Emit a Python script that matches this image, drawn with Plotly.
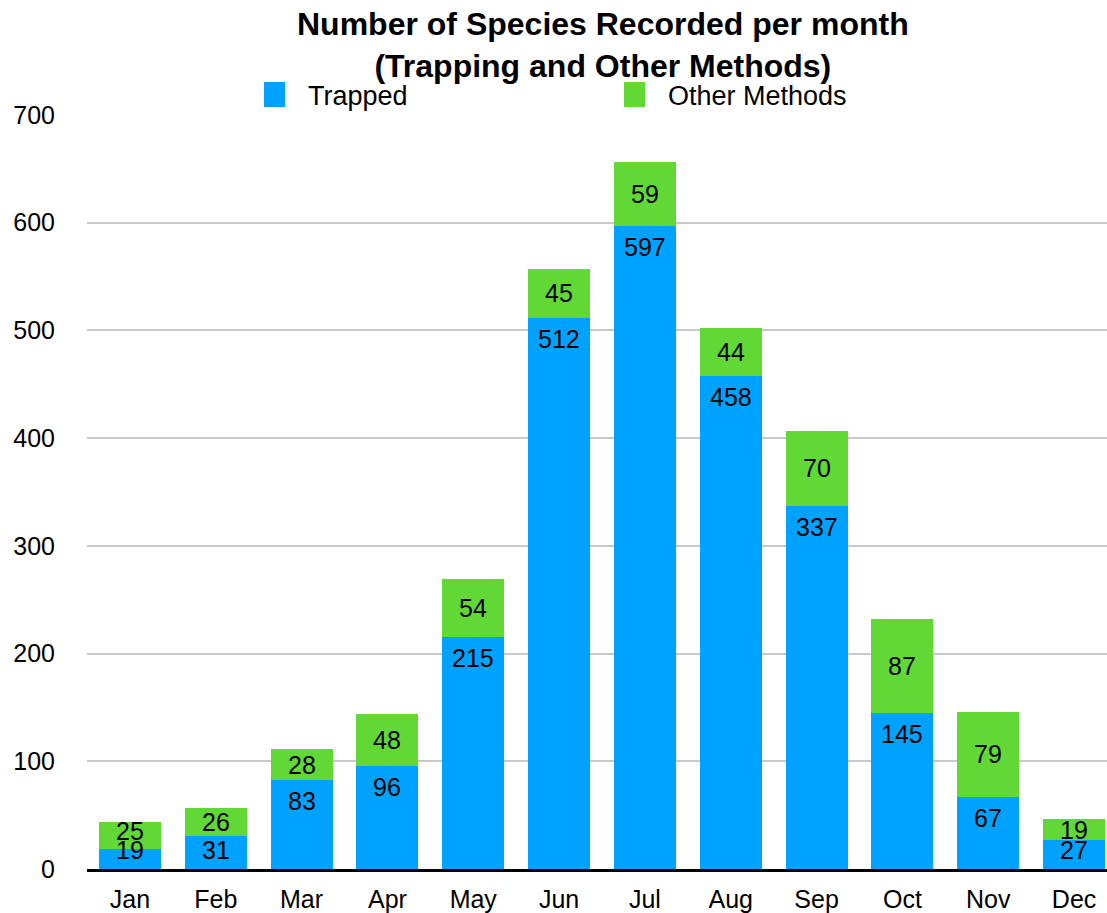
import plotly.graph_objects as go

months = ["Jan", "Feb", "Mar", "Apr", "May", "Jun", "Jul", "Aug", "Sep", "Oct", "Nov", "Dec"]
trapped = [19, 31, 83, 96, 215, 512, 597, 458, 337, 145, 67, 27]
other_methods = [25, 26, 28, 48, 54, 45, 59, 44, 70, 87, 79, 19]
y_ticks = [0, 100, 200, 300, 400, 500, 600, 700]

BLUE = "#00A2FF"
GREEN = "#61D836"
FONT = "Liberation Sans, Arial, Helvetica, sans-serif"

# plot area extends slightly past the right edge of the 1107px window, as in the source
W, H = 1117, 913
M_L, M_R, M_T, M_B = 87, 0, 115, 44
Y_MAX = 700
plot_h = H - M_T - M_B
px_per_unit = plot_h / Y_MAX

fig = go.Figure()
fig.add_trace(go.Bar(x=months, y=trapped, name="Trapped",
                     marker=dict(color=BLUE, line=dict(width=0)), showlegend=False))
fig.add_trace(go.Bar(x=months, y=other_methods, name="Other Methods",
                     marker=dict(color=GREEN, line=dict(width=0)), showlegend=False))

annotations = []
LABEL_FONT = dict(size=25, family=FONT, color="black")
for m, t, o in zip(months, trapped, other_methods):
    t_px = t * px_per_unit
    # trapped label: just inside top, but not below the baseline area
    shift_t = -min(21.0, t_px - 19.0)
    annotations.append(dict(x=m, y=t, xref="x", yref="y", text=str(t), showarrow=False,
                            yshift=shift_t, yanchor="middle", font=LABEL_FONT))
    # other-methods label: centred in its segment, kept clear of the trapped label
    centre_px = (t + o / 2) * px_per_unit
    t_label_px = t_px + shift_t
    o_px = max(centre_px, t_label_px + 19.0)
    annotations.append(dict(x=m, y=t + o / 2, xref="x", yref="y", text=str(o), showarrow=False,
                            yshift=o_px - centre_px, yanchor="middle", font=LABEL_FONT))

plot_w = W - M_L - M_R
def px_x(px):
    return (px - M_L) / plot_w
def px_y(px):
    return (H - M_B - px) / plot_h

# title
annotations.append(dict(
    x=px_x(603), y=px_y(45), xref="paper", yref="paper", xanchor="center", yanchor="middle",
    text="<b>Number of Species Recorded per month<br>(Trapping and Other Methods)</b>",
    showarrow=False, font=dict(size=32, family=FONT, color="black"),
))

# legend (manual, to match large square swatches)
shapes = []
legend_items = [("Trapped", BLUE, 264), ("Other Methods", GREEN, 624)]
for label, col, x0 in legend_items:
    shapes.append(dict(type="rect", xref="paper", yref="paper",
                       x0=px_x(x0), x1=px_x(x0 + 21), y0=px_y(107), y1=px_y(82),
                       fillcolor=col, line=dict(width=0)))
    annotations.append(dict(x=px_x(x0 + 42), y=px_y(96), xref="paper", yref="paper",
                            xanchor="left", yanchor="middle", text=label, showarrow=False,
                            font=dict(size=27, family=FONT, color="black")))

fig.update_layout(
    width=W, height=H,
    barmode="stack", bargap=0.277,
    plot_bgcolor="white", paper_bgcolor="white",
    font=dict(family=FONT, size=25, color="black"),
    margin=dict(l=M_L, r=M_R, t=M_T, b=M_B, autoexpand=False),
    showlegend=False,
    annotations=annotations,
    shapes=shapes,
    xaxis=dict(
        showgrid=False, showline=True, linecolor="black", linewidth=3,
        ticks="", tickfont=dict(size=25), layer="above traces",
        automargin=False, ticklabelstandoff=6,
    ),
    yaxis=dict(
        range=[0, Y_MAX], tickvals=y_ticks,
        showgrid=True, gridcolor="#C8C8C8", gridwidth=1.5, zeroline=False,
        showline=False, ticks="", tickfont=dict(size=25), ticklabelstandoff=31,
        automargin=False,
    ),
)

fig.write_html(
    "out.html",
    config={"displayModeBar": False},
    post_script="document.body.style.margin='0px';document.body.style.overflow='hidden';",
)
